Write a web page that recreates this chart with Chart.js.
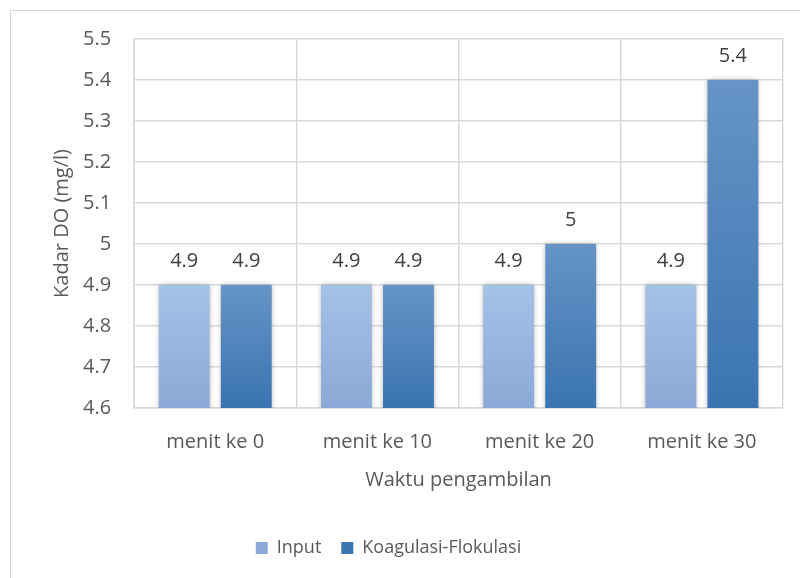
<!DOCTYPE html>
<html lang="en">
<head>
<meta charset="UTF-8">
<title>Kadar DO</title>
<style>
  body { margin:0; background:#fff; }
  #wrap { position:relative; width:800px; height:578px; overflow:hidden; }
  #frame { position:absolute; left:10px; top:10px; width:820px; height:620px; border:1.5px solid #d9d9d9; box-sizing:border-box; }
  canvas { position:absolute; left:0; top:0; }
</style>
</head>
<body>
<div id="wrap">
  <div id="frame"></div>
  <canvas id="myChart" width="800" height="578"></canvas>
</div>
<script src="https://cdn.jsdelivr.net/npm/chart.js@4.4.0/dist/chart.umd.min.js"></script>
<script>
// data
var categories = ['menit ke 0', 'menit ke 10', 'menit ke 20', 'menit ke 30'];
var inputValues = [4.9, 4.9, 4.9, 4.9];
var koagValues = [4.9, 4.9, 5.0, 5.4];
var seriesNames = ['Input', 'Koagulasi-Flokulasi'];

var FONT = "'Open Sans', 'Noto Sans', sans-serif";
var FSIZE = 20;

// gradient per bar (top of bar -> axis), like the office-style fill
function f_grad(top, bottom){
    return function(c){
        var area = c.chart.chartArea;
        var ys = c.chart.scales.y;
        if(!area || !ys || c.raw == null) return top;
        var y0 = ys.getPixelForValue(c.raw);
        var g = c.chart.ctx.createLinearGradient(0, y0, 0, area.bottom);
        g.addColorStop(0, top);
        g.addColorStop(1, bottom);
        return g;
    };
}

// value labels above bars
var valueLabels = {
    id: 'valueLabels',
    afterDatasetsDraw: function(chart){
        var ctx = chart.ctx;
        ctx.save();
        ctx.font = FSIZE + 'px ' + FONT;
        ctx.fillStyle = '#404040';
        ctx.textAlign = 'center';
        ctx.textBaseline = 'middle';
        chart.data.datasets.forEach(function(ds, i){
            chart.getDatasetMeta(i).data.forEach(function(bar, j){
                ctx.fillText(String(ds.data[j]), bar.x, bar.y - 24);
            });
        });
        ctx.restore();
    }
};

// soft shadow around bars
var barShadow = {
    id: 'barShadow',
    beforeDatasetsDraw: function(chart){
        chart.ctx.save();
        chart.ctx.shadowColor = 'rgba(0,0,0,0.3)';
        chart.ctx.shadowBlur = 5;
    },
    afterDatasetsDraw: function(chart){
        chart.ctx.restore();
    }
};

// legend sits a bit left of centre in the original
var legendShift = {
    id: 'legendShift',
    afterLayout: function(chart){
        if(chart.legend){
            chart.legend.left -= 21;
            chart.legend.right -= 21;
        }
    }
};

const ctx = document.getElementById('myChart').getContext('2d');
const myChart = new Chart(ctx, {
    type: 'bar',
    data: {
        labels: categories,
        datasets: [{
            label: seriesNames[0],
            data: inputValues,
            backgroundColor: f_grad('#a4c2e7', '#8aa9d6'),
            categoryPercentage: 0.765,
            barPercentage: 0.82
        },{
            label: seriesNames[1],
            data: koagValues,
            backgroundColor: f_grad('#6694c6', '#3a74b1'),
            categoryPercentage: 0.765,
            barPercentage: 0.82
        }]
    },
    options: {
        responsive: false,
        animation: false,
        layout: { padding: { left: 36, right: 17, top: 39, bottom: 11 } },
        plugins: {
            legend: {
                position: 'bottom',
                labels: {
                    font: { family: FONT, size: 18 },
                    color: '#595959',
                    boxWidth: 12,
                    boxHeight: 12,
                    padding: 20
                }
            },
            tooltip: { enabled: false }
        },
        scales: {
            x: {
                grid: { offset: true, color: '#d9d9d9', lineWidth: 1.5, drawTicks: false },
                border: { color: '#d9d9d9', width: 1.5 },
                ticks: { font: { family: FONT, size: FSIZE }, color: '#595959', padding: 22 },
                title: {
                    display: true, text: 'Waktu pengambilan',
                    font: { family: FONT, size: FSIZE }, color: '#595959',
                    padding: { top: -8, bottom: 27 }
                }
            },
            y: {
                min: 4.6,
                max: 5.5,
                grid: { color: '#d9d9d9', lineWidth: 1.5, drawTicks: false },
                border: { color: '#d9d9d9', width: 1.5 },
                ticks: {
                    stepSize: 0.1,
                    font: { family: FONT, size: FSIZE }, color: '#595959', padding: 23,
                    callback: function(v){ return parseFloat(v.toFixed(1)).toString(); }
                },
                title: {
                    display: true, text: 'Kadar DO (mg/l)',
                    font: { family: FONT, size: FSIZE }, color: '#595959',
                    padding: { top: 14, bottom: -14 }
                }
            }
        }
    },
    plugins: [barShadow, valueLabels, legendShift]
});
</script>
</body>
</html>
